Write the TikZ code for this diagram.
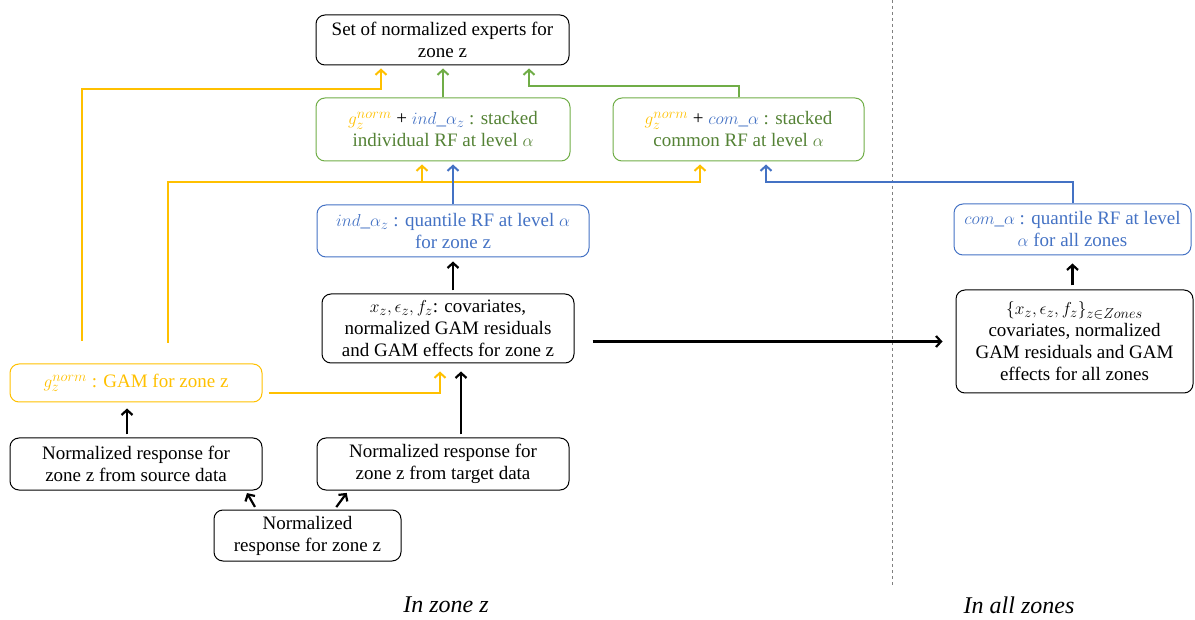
\documentclass[tikz,border=0pt]{standalone}
\usepackage{amsmath}
\usepackage{amssymb}
\usepackage{fontspec}
\setmainfont{Liberation Serif}
\usetikzlibrary{arrows.meta}
\definecolor{gold}{HTML}{FFC000}
\definecolor{blu}{HTML}{4472C4}
\definecolor{grn}{HTML}{70AD47}
\definecolor{dgrn}{HTML}{548235}

\begin{document}
\begin{tikzpicture}[x = 1pt, y = -1pt,
    box/.style = {draw, rounded corners = 9pt, align = center, inner sep = 2pt,
        line width = 1pt, font = \fontsize{19}{22}\selectfont},
    arr/.style = {line width = 2.2pt, -{Straight Barb[length = 5pt, width = 11pt]}},
    lbl/.style = {font = \fontsize{24}{26}\selectfont\itshape}]
            \useasboundingbox (0, 0) rectangle (1195, 620);

            \node[box, minimum width = 253, minimum height = 50] (top) at (442.5, 40)
                {Set of normalized experts for\\zone z};
            \node[box, draw = grn, text = dgrn, minimum width = 254, minimum height = 63] (stInd) at (443, 129.5)
                {{\color{gold}$g_z^{norm}$} {\color{black}+} {\color{blu}$ind\_\alpha_z$} : stacked\\individual RF at level $\alpha$};
            \node[box, draw = grn, text = dgrn, minimum width = 251, minimum height = 63] (stCom) at (738.5, 129.5)
                {{\color{gold}$g_z^{norm}$} {\color{black}+} {\color{blu}$com\_\alpha$} : stacked\\common RF at level $\alpha$};
            \node[box, draw = blu, text = blu, minimum width = 272, minimum height = 52] (qInd) at (453, 231)
                {$ind\_\alpha_z$ : quantile RF at level $\alpha$\\for zone z};
            \node[box, draw = blu, text = blu, minimum width = 237, minimum height = 51] (qCom) at (1072.5, 229.5)
                {$com\_\alpha$ : quantile RF at level\\$\alpha$ for all zones};
            \node[box, minimum width = 252, minimum height = 69] (cov) at (448, 328.5)
                {$x_z, \epsilon_z, f_z$: covariates,\\normalized GAM residuals\\and GAM effects for zone z};
            \node[box, minimum width = 237, minimum height = 103] (covAll) at (1074.5, 341.5)
                {$\{x_z, \epsilon_z, f_z\}_{z \in Zones}$\\covariates, normalized\\GAM residuals and GAM\\effects for all zones};
            \node[box, draw = gold, text = gold, minimum width = 252, minimum height = 38] (gam) at (136, 383)
                {$g_z^{norm}$ : GAM for zone z};
            \node[box, minimum width = 252, minimum height = 52] (src) at (136, 464)
                {Normalized response for\\zone z from source data};
            \node[box, minimum width = 252, minimum height = 52] (tgt) at (443, 464)
                {Normalized response for\\zone z from target data};
            \node[box, minimum width = 187, minimum height = 51] (resp) at (307.5, 535.5)
                {Normalized\\response for zone z};

            \node[lbl] (zoneLbl) at (446, 605) {In zone z};
            \node[lbl] (allLbl) at (1019, 605) {In all zones};

            \coordinate (gA) at (82, 341);
            \coordinate (gB) at (168, 343);
            \coordinate (kA) at (381, 89);
            \coordinate (kC) at (529, 86);
            \coordinate (kD) at (422, 182);
            \coordinate (kE) at (700, 182);
            \coordinate (kF) at (766, 182);
            \coordinate (kG) at (461, 0);

            \draw[gray, dashed, line width = 0.8pt] (892, 0) -- (892, 585);

            \draw[gold, arr, line width = 2pt, shorten >= 3pt] (gA) |- (kA) -- (kA |- top.south);
            \draw[grn, arr, line width = 2pt, shorten >= 3pt] (stInd.north) -- (stInd.north |- top.south);
            \draw[grn, arr, line width = 2pt, shorten >= 3pt] (stCom.north) |- (kC) -- (kC |- top.south);
            \draw[gold, arr, line width = 2pt, shorten >= 3pt] (gB) |- (kE) -- (kE |- stCom.south);
            \draw[gold, arr, line width = 2pt, shorten >= 3pt] (kD) -- (kD |- stInd.south);
            \draw[blu, arr, line width = 2pt, shorten >= 3pt] (qInd.north) -- (qInd.north |- stInd.south);
            \draw[blu, arr, line width = 2pt, shorten >= 3pt] (qCom.north) |- (kF) -- (kF |- stCom.south);
            \draw[arr, shorten <= 3pt, shorten >= 4pt] (cov.north -| qInd.south) -- (qInd.south);
            \draw[arr, shorten <= 3pt, shorten >= 8pt] (tgt.north -| kG) -- (kG |- cov.south);
            \draw[gold, arr, line width = 2pt, shorten <= 6pt, shorten >= 8pt] ([yshift = -10pt]gam.east) -| ([xshift = -8pt]cov.south);
            \draw[arr, shorten <= 3pt, shorten >= 6pt] ([xshift = -9pt]src.north) -- ([xshift = -9pt]gam.south);
            \draw[arr, shorten <= 3pt, shorten >= 3pt] ([xshift = -51pt]resp.north) -- ([xshift = -17pt]src.south east);
            \draw[arr, shorten <= 3pt, shorten >= 3pt] ([xshift = 27pt]resp.north) -- ([xshift = 32pt]tgt.south west);
            \draw[arr, shorten <= 18pt, shorten >= 13pt] (cov.east |- covAll.west) -- (covAll.west);
            \draw[arr, shorten <= 4pt, shorten >= 8pt] (covAll.north -| qCom.south) -- (qCom.south);
        \end{tikzpicture}
\end{document}
